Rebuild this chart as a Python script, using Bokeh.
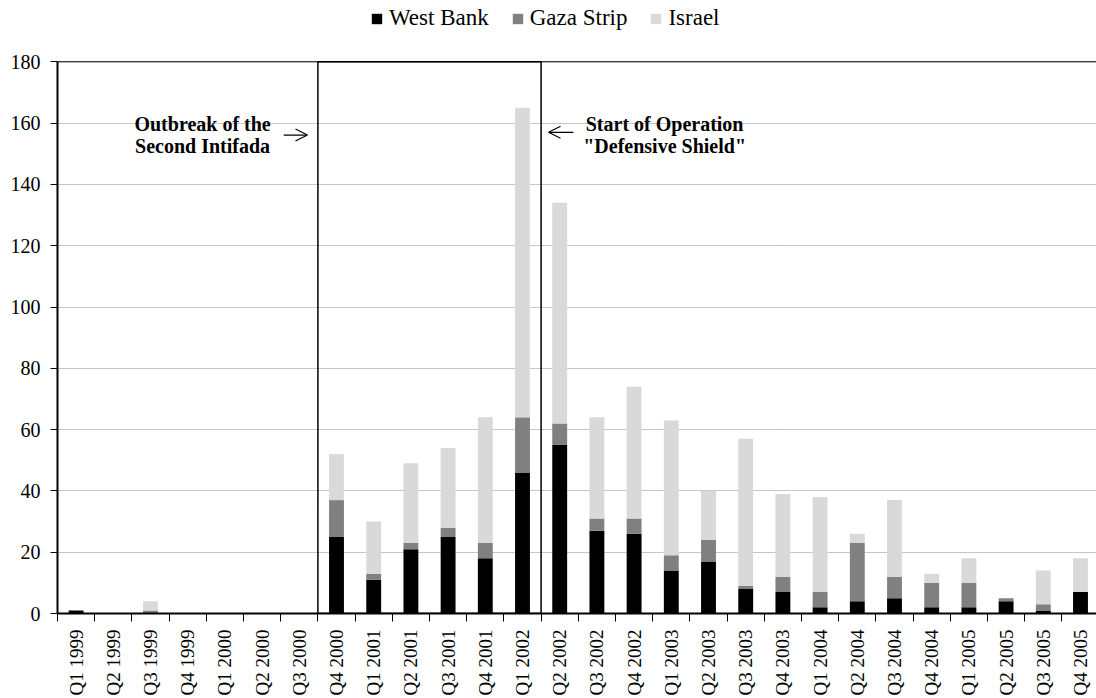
import math
from bokeh.plotting import figure
from bokeh.models import (ColumnDataSource, FixedTicker, Legend, LegendItem, Label,
                          Span, CustomJSTickFormatter, Arrow, OpenHead)
from bokeh.embed import file_html
from bokeh.resources import INLINE

categories = ["Q1 1999", "Q2 1999", "Q3 1999", "Q4 1999", "Q1 2000", "Q2 2000", "Q3 2000",
              "Q4 2000", "Q1 2001", "Q2 2001", "Q3 2001", "Q4 2001", "Q1 2002", "Q2 2002",
              "Q3 2002", "Q4 2002", "Q1 2003", "Q2 2003", "Q3 2003", "Q4 2003", "Q1 2004",
              "Q2 2004", "Q3 2004", "Q4 2004", "Q1 2005", "Q2 2005", "Q3 2005", "Q4 2005"]
west_bank = [1, 0, 0, 0, 0, 0, 0, 25, 11, 21, 25, 18, 46, 55, 27, 26, 14, 17, 8, 7, 2, 4, 5, 2, 2, 4, 1, 7]
gaza_strip = [0, 0, 1, 0, 0, 0, 0, 12, 2, 2, 3, 5, 18, 7, 4, 5, 5, 7, 1, 5, 5, 19, 7, 8, 8, 1, 2, 0]
israel = [0, 0, 3, 0, 0, 0, 0, 15, 17, 26, 26, 41, 101, 72, 33, 43, 44, 16, 48, 27, 31, 3, 25, 3, 8, 0, 11, 11]
series_names = ["West Bank", "Gaza Strip", "Israel"]
colors = ["#000000", "#808080", "#d9d9d9"]
y_ticks = list(range(0, 181, 20))
period_start = "Q4 2000"
period_end = "Q2 2002"

FONT = "Liberation Serif"
n = len(categories)
y_max = y_ticks[-1]
xs = [i + 0.5 for i in range(n)]
source = ColumnDataSource(dict(x=xs, wb=west_bank, gz=gaza_strip, il=israel))

# the frame reaches above the 180 line so that the legend can sit inside it
p = figure(width=1096, height=698, x_range=(0, n - 0.07), y_range=(0, 200),
           output_backend="svg", toolbar_location=None,
           min_border_top=0, min_border_left=57, min_border_right=0, min_border_bottom=83)
p.outline_line_color = None
p.background_fill_color = "white"

rs = p.vbar_stack(["wb", "gz", "il"], x="x", width=0.4, color=colors, line_color=None, source=source)

# grid
p.xgrid.visible = False
p.ygrid.grid_line_color = "#8c8c8c"
p.ygrid.grid_line_dash = "1 1"
p.ygrid.grid_line_width = 1

# y axis
p.yaxis.ticker = FixedTicker(ticks=y_ticks)
p.yaxis.bounds = (0, y_max)
p.yaxis.axis_line_color = "black"
p.yaxis.axis_line_width = 2
p.yaxis.major_tick_line_color = "black"
p.yaxis.major_tick_out = 7
p.yaxis.major_tick_in = 0
p.yaxis.minor_tick_line_color = None
p.yaxis.major_label_text_font = FONT
p.yaxis.major_label_text_font_size = "20px"
p.yaxis.major_label_text_color = "black"
p.yaxis.major_label_standoff = 10

# x axis
p.xaxis.ticker = FixedTicker(ticks=xs, minor_ticks=list(range(n + 1)))
p.xaxis.formatter = CustomJSTickFormatter(args=dict(labels=categories),
                                          code="const i = Math.floor(tick); return (i >= 0 && i < labels.length) ? labels[i] : '';")
p.xaxis.major_label_orientation = math.pi / 2
p.xaxis.axis_line_color = "black"
p.xaxis.axis_line_width = 2
p.xaxis.major_tick_line_color = None
p.xaxis.minor_tick_line_color = "black"
p.xaxis.minor_tick_out = 8
p.xaxis.minor_tick_in = 0
p.xaxis.major_label_text_font = FONT
p.xaxis.major_label_text_font_size = "19px"
p.xaxis.major_label_text_color = "black"
p.xaxis.major_label_standoff = 8

# top line and highlighted period box
p.add_layout(Span(location=y_max, dimension="width", line_color="black", line_width=1))
i0 = categories.index(period_start)
i1 = categories.index(period_end)
p.quad(left=[i0], right=[i1], bottom=[0], top=[y_max], fill_color=None,
       line_color="black", line_width=1.5)

# annotations
for txt, yy in [("Outbreak of the", 159.7), ("Second Intifada", 152.6)]:
    p.add_layout(Label(x=3.9, y=yy, text=txt, text_align="center", text_baseline="middle",
                       text_font=FONT, text_font_style="bold", text_font_size="20px",
                       text_color="black"))
for txt, yy in [("Start of Operation", 159.7), ("\"Defensive Shield\"", 152.6)]:
    p.add_layout(Label(x=16.32, y=yy, text=txt, text_align="center", text_baseline="middle",
                       text_font=FONT, text_font_style="bold", text_font_size="20px",
                       text_color="black"))
p.add_layout(Arrow(end=OpenHead(size=12, line_width=1.2, line_color="black"),
                   x_start=6.08, x_end=6.72, y_start=156.1, y_end=156.1,
                   line_color="black", line_width=1.2))
p.add_layout(Arrow(end=OpenHead(size=12, line_width=1.2, line_color="black"),
                   x_start=13.87, x_end=13.2, y_start=157.0, y_end=157.0,
                   line_color="black", line_width=1.2))

# legend (location = bottom-left corner of the legend, px from frame bottom-left)
items = [LegendItem(label=name, renderers=[r]) for name, r in zip(series_names, rs)]
legend = Legend(items=items, orientation="horizontal", location=(313, 582),
                border_line_color=None, background_fill_alpha=0, padding=0, margin=0,
                spacing=22, label_standoff=6, glyph_width=13, glyph_height=13,
                label_text_font=FONT, label_text_font_size="23px", label_text_color="black",
                label_height=22)
p.add_layout(legend)

open("out.html", "w").write(file_html(p, INLINE))
